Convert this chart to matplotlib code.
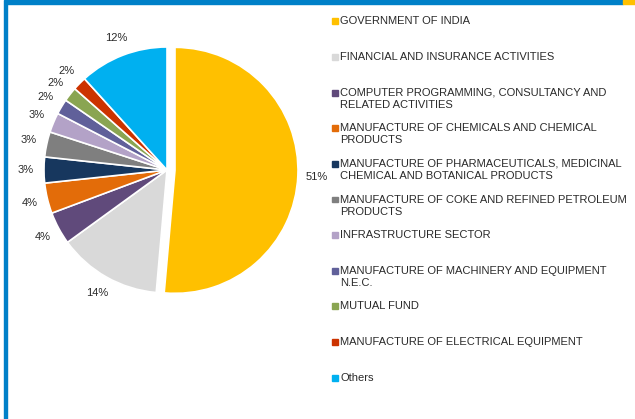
"""Sector allocation pie with a hand-placed legend on the right. Writes out.png."""

import matplotlib

matplotlib.use("Agg")
import matplotlib.pyplot as plt
from matplotlib.patches import Rectangle

plt.rcParams["font.family"] = ["Liberation Sans", "DejaVu Sans"]

SECTORS = [
    "GOVERNMENT OF INDIA",
    "FINANCIAL AND INSURANCE ACTIVITIES",
    "COMPUTER PROGRAMMING, CONSULTANCY AND\nRELATED ACTIVITIES",
    "MANUFACTURE OF CHEMICALS AND CHEMICAL\nPRODUCTS",
    "MANUFACTURE OF PHARMACEUTICALS, MEDICINAL\nCHEMICAL AND BOTANICAL PRODUCTS",
    "MANUFACTURE OF COKE AND REFINED PETROLEUM\nPRODUCTS",
    "INFRASTRUCTURE SECTOR",
    "MANUFACTURE OF MACHINERY AND EQUIPMENT\nN.E.C.",
    "MUTUAL FUND",
    "MANUFACTURE OF ELECTRICAL EQUIPMENT",
    "Others",
]
SHARES = [51.4, 13.6, 4.3, 4.0, 3.4, 3.3, 2.6, 2.0, 1.9, 1.8, 11.7]
COLORS = [
    "#FFC000", "#D9D9D9", "#604A7B", "#E36C09", "#17375E", "#7F7F7F",
    "#B3A2C7", "#60609A", "#8AA552", "#CC3300", "#00B0F0",
]
TEXT = "#2a2a2a"

W, H = 635, 419
fig = plt.figure(figsize=(W / 100, H / 100), dpi=100)

# frame: blue rule on top and left, small yellow tab at top right
fig.patches.append(Rectangle((5 / W, 1 - 4 / H), 618 / W, 4 / H, color="#0080C8",
                             transform=fig.transFigure, figure=fig))
fig.patches.append(Rectangle((623 / W, 1 - 4 / H), 12 / W, 4 / H, color="#FFC000",
                             transform=fig.transFigure, figure=fig))
fig.patches.append(Rectangle((4 / W, 0), 2.5 / W, 1, color="#0080C8",
                             transform=fig.transFigure, figure=fig))

# pie: centre (167, 170) px from top-left, radius 123 px
R, K = 123, 1.3
cx, cy = 167, H - 170
ax = fig.add_axes([(cx - K * R) / W, (cy - K * R) / H, 2 * K * R / W, 2 * K * R / H])
explode = [0.065] + [0] * (len(SHARES) - 1)
wedges, _, autotexts = ax.pie(
    SHARES,
    colors=COLORS,
    startangle=90,
    counterclock=False,
    explode=explode,
    autopct="%.0f%%",
    pctdistance=1.15,
    wedgeprops=dict(edgecolor="white", linewidth=1.2),
    textprops=dict(fontsize=8, color=TEXT),
)
ax.set_xlim(-K, K)
ax.set_ylim(-K, K)
ax.set_aspect("equal")
ax.axis("off")

# legend drawn by hand so wrapped entries keep Excel's even spacing
top0, step = 21.5, 35.6
for i, (name, col) in enumerate(zip(SECTORS, COLORS)):
    y = top0 + i * step
    fig.patches.append(Rectangle((332 / W, 1 - (y + 3) / H), 6 / W, 6 / H, color=col,
                                 transform=fig.transFigure, figure=fig))
    fig.text(340 / W, 1 - (y - 5) / H, name, fontsize=8, color=TEXT,
             va="top", ha="left", linespacing=1.25)

fig.savefig("out.png", dpi=100)
